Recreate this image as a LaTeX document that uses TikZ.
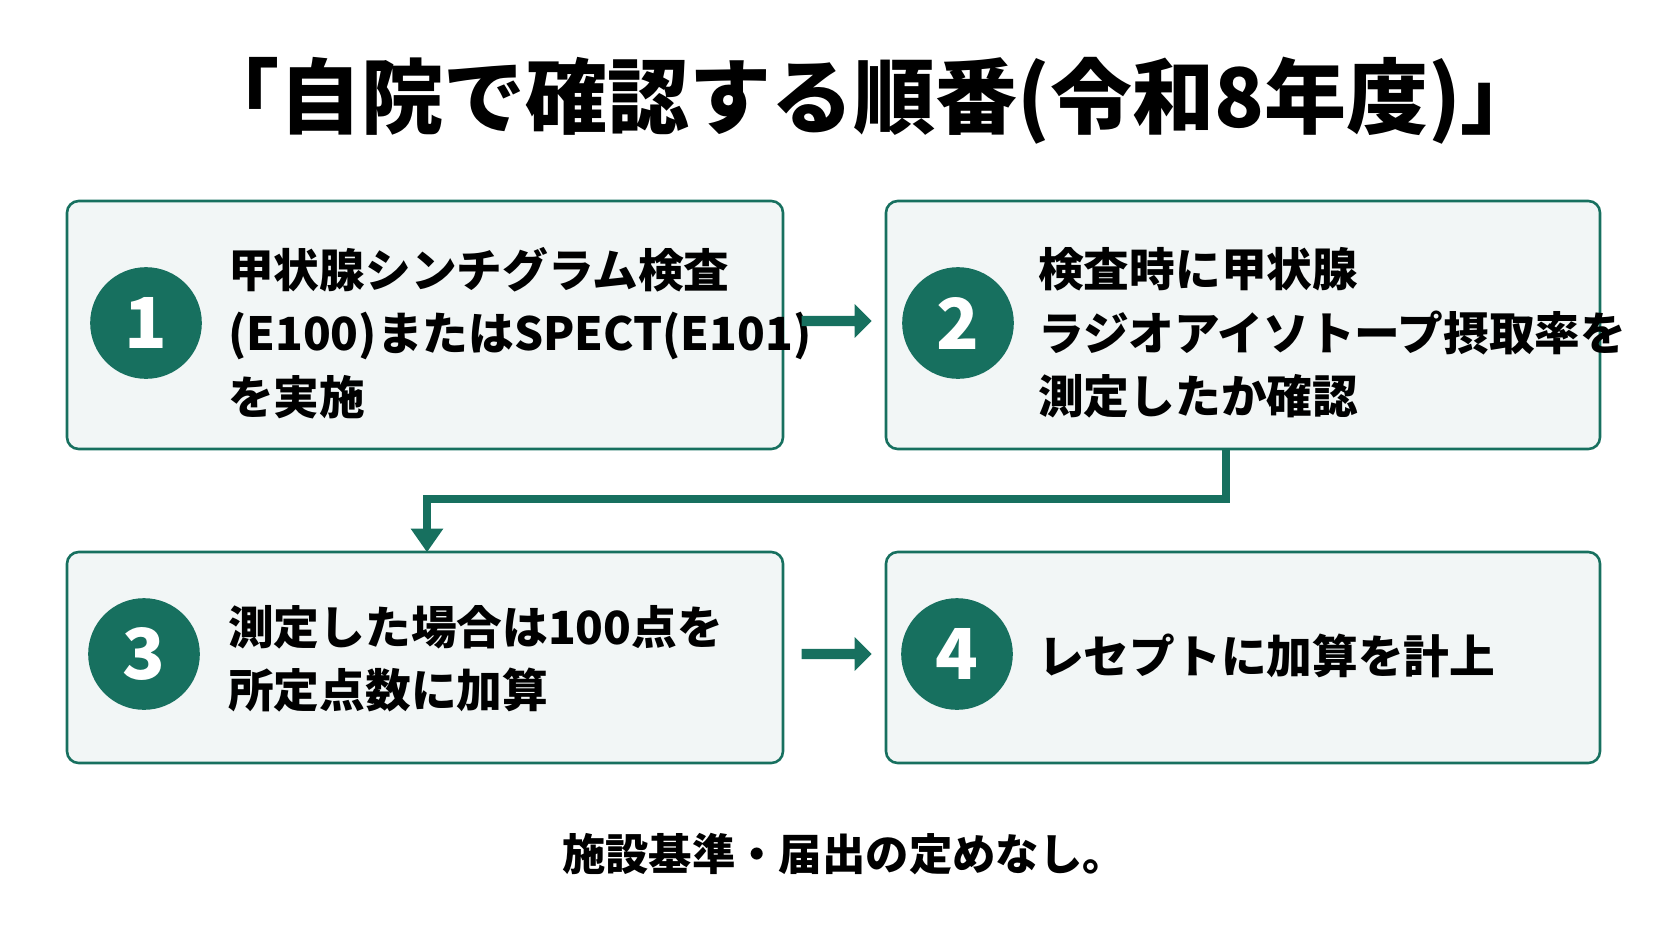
\documentclass[tikz,border=0pt]{standalone}
\usepackage{fontspec}
\setmainfont{Noto Sans CJK JP}
\usetikzlibrary{positioning,shapes.arrows}
\definecolor{stepgreen}{HTML}{17705F}
\definecolor{boxfill}{HTML}{F2F6F6}

\begin{document}
\begin{tikzpicture}[
        x=0.03cm, y=-0.03cm,
        every node/.style={inner sep=0pt},
        stepbox/.style={draw=stepgreen, line width=2.2pt, rounded corners=10pt, fill=boxfill},
        num/.style={circle, fill=stepgreen, minimum size=3.35cm, text=white, font=\fontsize{60}{60}\selectfont\bfseries},
        txt/.style={anchor=west, align=left, font=\fontsize{39}{54}\selectfont\bfseries},
        flow/.style={single arrow, fill=stepgreen, minimum height=2.1cm, minimum width=1.5cm, inner sep=0.3cm, single arrow head extend=0.35cm, single arrow tip angle=90}
    ]
    \useasboundingbox (0,0) rectangle (1672,941);

    % Title
    \node (title) at (870,101) {\fontsize{70}{70}\selectfont\bfseries 「自院で確認する順番(令和8年度)」};

    % Boxes
    \draw[stepbox] (67,201) rectangle (783,449);
    \draw[stepbox] (886,201) rectangle (1600,449);
    \draw[stepbox] (67,552) rectangle (783,763);
    \draw[stepbox] (886,552) rectangle (1600,763);

    % Numbers
    \node[num] (n1) at (146,323) {1};
    \node[num] (n2) at (958,323) {2};
    \node[num] (n3) at (144,654) {3};
    \node[num] (n4) at (957,654) {4};

    % Texts
    \node[txt] (t1) at (228,333) {甲状腺シンチグラム検査\\(E100)またはSPECT(E101)\\を実施};
    \node[txt] (t2) at (1038,333) {検査時に甲状腺\\ラジオアイソトープ摂取率を\\測定したか確認};
    \node[txt] (t3) at (228,659) {測定した場合は100点を\\所定点数に加算};
    \node[txt] (t4) at (1038,656) {レセプトに加算を計上};

    % Edges
    \node[flow, minimum height=2.1cm, minimum width=0.5cm, inner sep=0.15cm] (a12) at (834,321) {};
    \node[flow, minimum height=2.1cm, minimum width=0.5cm, inner sep=0.15cm] (a34) at (834,654) {};
    \coordinate (down) at (1226,449);
    \coordinate (turn) at (427,499);
    \coordinate (top3) at (427,552);
    \draw[stepgreen, line width=6pt] (down) |- (turn) -- ([yshift=18pt]top3);
    \fill[stepgreen] ([xshift=-14pt,yshift=20pt]top3) -- ([xshift=14pt,yshift=20pt]top3) -- (top3) -- cycle;

    % Footer
    \node (note) at (844,854) {\fontsize{37}{37}\selectfont\bfseries 施設基準・届出の定めなし。};
\end{tikzpicture}
\end{document}
